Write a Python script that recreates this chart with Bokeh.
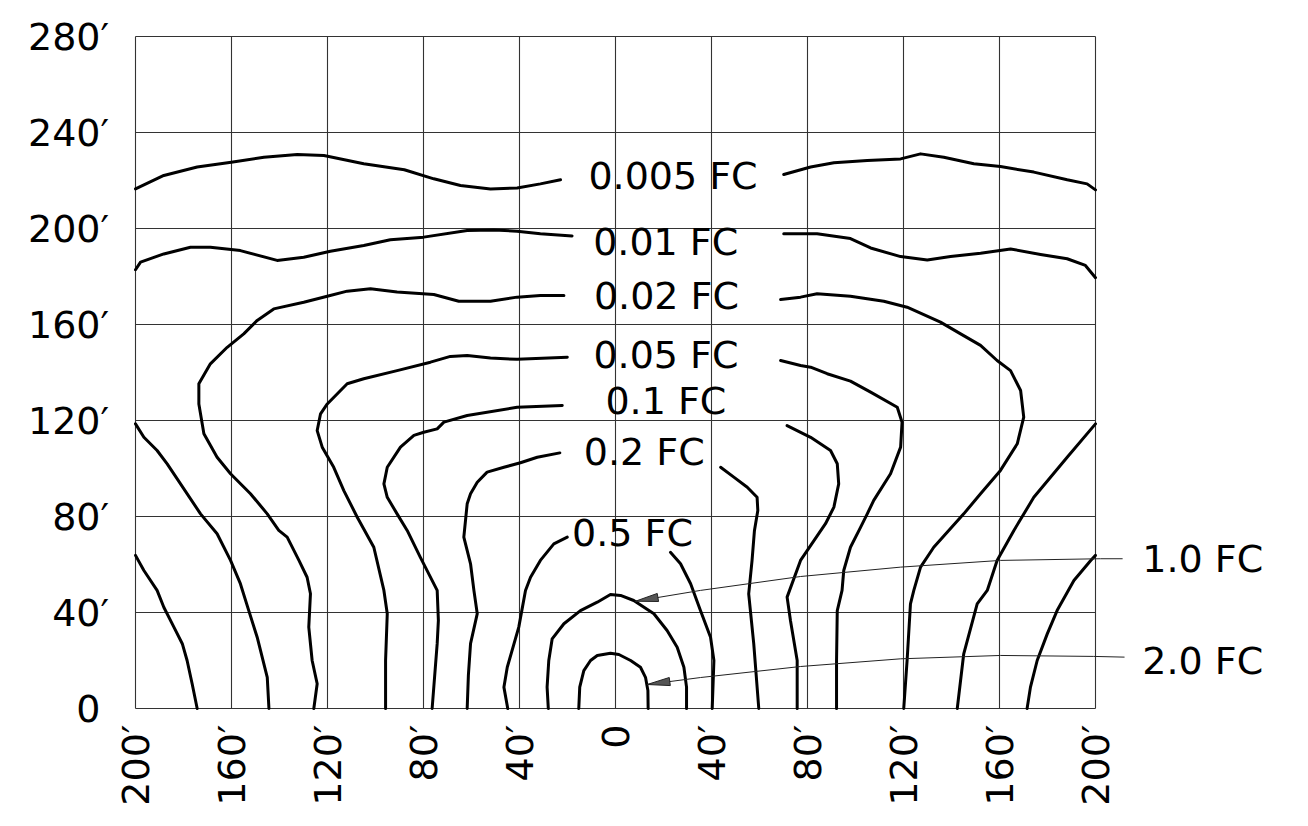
import math
from bokeh.plotting import figure
from bokeh.models import Range1d
from bokeh.core.properties import value
from bokeh.embed import file_html
from bokeh.resources import INLINE

# ---------------- data (feet) ----------------
x_ticks = [-200, -160, -120, -80, -40, 0, 40, 80, 120, 160, 200]
x_tick_labels = ["200′", "160′", "120′", "80′", "40′", "0", "40′", "80′", "120′", "160′", "200′"]
y_ticks = [0, 40, 80, 120, 160, 200, 240, 280]
y_tick_labels = ["0", "40′", "80′", "120′", "160′", "200′", "240′", "280′"]

# 0.005 FC
fc0005_a_x = [-200, -188.2, -174.3, -160.1, -146.5, -132.6, -121.5, -104.9, -88.0, -75.7, -64.6, -52.1, -41.0, -31.3, -22.9]
fc0005_a_y = [216.5, 222.1, 225.6, 227.6, 229.7, 230.8, 230.4, 227.0, 224.5, 220.7, 217.9, 216.5, 216.9, 218.6, 220.3]
fc0005_b_x = [70.1, 81.3, 91.0, 104.9, 118.8, 127.1, 136.8, 149.3, 160.4, 174.3, 188.2, 196.5, 200]
fc0005_b_y = [222.5, 225.6, 227.4, 228.3, 229.0, 231.1, 229.7, 227.0, 225.8, 223.5, 220.3, 218.6, 216.1]
fc0005_c_x = [-200, -196.5, -191.0, -188.2, -184.0, -180.5, -178.5, -176.4, -174.3]
fc0005_c_y = [63.8, 57.5, 49.2, 42.2, 33.9, 27.0, 20.0, 10.3, 0]
fc0005_d_x = [200, 198.0, 191.0, 184.0, 179.9, 175.7, 172.9, 171.5]
fc0005_d_y = [63.8, 61.7, 53.3, 40.8, 31.1, 20.0, 8.9, 0]

# 0.01 FC
fc001_a_x = [-200, -197.9, -188.2, -177.1, -168.8, -156.3, -141.0, -129.9, -118.8, -104.9, -93.8, -79.9, -61.8, -50.7, -41.0, -31.3, -18.1]
fc001_a_y = [182.8, 186.0, 189.4, 192.2, 192.2, 190.8, 186.7, 188.0, 190.5, 192.9, 195.3, 196.4, 199.2, 199.4, 198.9, 197.8, 196.9]
fc001_b_x = [70.1, 84.0, 97.9, 106.3, 118.8, 129.9, 139.6, 152.1, 164.6, 177.1, 188.2, 195.8, 200]
fc001_b_y = [197.8, 197.8, 195.8, 191.9, 188.3, 186.9, 188.3, 189.7, 191.5, 189.2, 187.4, 184.6, 179.5]
fc001_c_x = [-200, -196.5, -191.0, -186.8, -172.9, -166.0, -160.4, -156.3, -152.8, -149.3, -145.1, -144.4]
fc001_c_y = [118.6, 113.0, 107.5, 101.9, 81.1, 72.8, 61.7, 52.0, 40.8, 29.7, 13.0, 0]
fc001_d_x = [200, 188.2, 174.3, 166.0, 159.0, 154.9, 150.7, 145.1, 142.4]
fc001_d_y = [118.6, 104.7, 88.0, 74.2, 61.7, 49.2, 43.6, 22.8, 0]

# 0.02 FC
fc002_a_x = [-21.5, -31.3, -41.0, -52.1, -65.3, -75.7, -91.0, -102.1, -111.8, -120.1, -129.9, -142.4, -149.3, -154.9,
             -161.8, -168.8, -173.6, -173.6, -171.5, -166.0, -160.4, -152.1, -145.1, -140.3, -136.8, -131.9, -128.5,
             -127.1, -127.8, -126.4, -124.3, -125.7]
fc002_a_y = [172.1, 172.1, 171.4, 169.7, 169.7, 172.5, 173.5, 174.9, 173.9, 171.8, 169.3, 166.5, 161.7, 156.1,
             150.5, 143.6, 135.3, 126.9, 114.5, 104.7, 97.8, 89.5, 81.1, 74.2, 71.4, 61.7, 54.7,
             47.8, 33.9, 20.0, 10.3, 0]
fc002_b_x = [68.8, 77.1, 84.0, 97.9, 111.8, 121.5, 135.4, 143.8, 152.1, 159.0, 164.6, 168.8, 170.1, 167.4, 160.4,
             152.1, 145.1, 132.6, 127.1, 124.3, 122.9, 121.5, 120.1]
fc002_b_y = [170.4, 171.4, 172.8, 171.8, 169.7, 167.2, 161.0, 156.1, 151.3, 145.0, 140.8, 132.5, 121.4, 110.3, 99.2,
             89.5, 81.1, 67.2, 58.9, 49.2, 43.6, 20.0, 0]

# 0.05 FC
fc005_a_x = [-20.1, -41.0, -52.1, -61.8, -68.8, -77.1, -91.0, -104.9, -111.8, -120.1, -122.9, -124.3, -122.2, -117.4,
             -113.2, -107.6, -100.7, -96.5, -95.1, -95.8, -95.8]
fc005_a_y = [146.4, 145.5, 146.0, 147.1, 146.7, 144.3, 140.8, 137.4, 135.3, 126.9, 122.8, 115.8, 108.9, 100.5,
             90.8, 79.7, 67.2, 49.2, 39.5, 20.0, 0]
fc005_b_x = [68.8, 77.1, 81.3, 88.2, 97.9, 106.3, 117.4, 119.4, 118.8, 114.6, 107.6, 104.9, 102.1, 97.9, 95.1, 94.4,
             92.4, 92.1, 92.1]
fc005_b_y = [145.0, 142.9, 142.2, 139.5, 136.4, 131.8, 125.5, 119.3, 108.9, 97.8, 86.7, 81.1, 75.5, 67.2, 57.5, 49.2,
             40.8, 20.0, 0]

# 0.1 FC
fc01_a_x = [-22.2, -41.0, -61.8, -71.5, -74.3, -79.9, -84.0, -89.6, -95.1, -96.5, -95.1, -91.0, -86.8, -81.3, -74.3,
            -73.8, -74.3, -76.4]
fc01_a_y = [126.3, 125.5, 122.1, 119.3, 116.5, 115.1, 113.8, 108.9, 100.5, 93.6, 88.0, 81.1, 74.2, 63.0, 49.2,
            36.7, 27.0, 0]
fc01_b_x = [71.5, 81.3, 89.6, 92.4, 93.0, 91.0, 87.5, 77.1, 71.5, 72.9, 75.7, 75.7]
fc01_b_y = [117.9, 113.0, 107.5, 102.0, 93.6, 83.9, 77.0, 61.7, 46.4, 36.7, 20.0, 0]

# 0.2 FC
fc02_a_x = [-23.2, -32.6, -39.6, -46.5, -53.5, -57.6, -60.4, -61.8, -63.2, -60.4, -59.0, -57.6, -60.4, -61.3, -61.8]
fc02_a_y = [106.5, 104.7, 102.4, 100.5, 98.5, 94.3, 89.5, 85.3, 71.4, 60.3, 49.2, 39.5, 27.0, 13.8, 0]
fc02_b_x = [43.8, 49.3, 54.9, 59.0, 59.3, 57.9, 56.9, 55.5, 57.6, 59.7]
fc02_b_y = [100.5, 96.4, 92.2, 88.0, 82.5, 74.2, 61.7, 47.8, 27.0, 0]

# 0.5 FC
fc05_a_x = [-20.1, -25.7, -31.3, -35.4, -37.5, -40.3, -45.1, -46.5, -44.9]
fc05_a_y = [71.4, 68.6, 61.7, 54.7, 49.2, 33.9, 17.2, 8.9, 0]
fc05_b_x = [22.9, 27.1, 31.3, 35.4, 39.6, 41.0, 40.3]
fc05_b_y = [65.1, 60.3, 52.0, 40.8, 29.7, 20.0, 0]

# 1.0 FC
fc1_x = [-28.0, -28.5, -27.8, -26.4, -21.5, -14.6, -7.6, -2.1, 2.1, 7.6, 16.0, 21.5, 25.7, 28.5, 29.6, 29.6]
fc1_y = [0, 8.9, 20.0, 29.0, 35.3, 40.8, 44.3, 47.5, 47.1, 45.0, 39.5, 32.5, 25.5, 17.2, 8.9, 0]

# 2.0 FC
fc2_x = [-15.3, -14.9, -13.2, -10.4, -7.6, -2.1, 1.4, 6.3, 10.4, 12.5, 13.5, 13.6]
fc2_y = [0, 8.9, 15.8, 20.0, 22.1, 23.0, 22.5, 20.0, 17.2, 13.0, 7.5, 0]

# leaders (label -> arrow tip)
lead1_x = [211.3, 202.1, 160.4, 118.8, 77.1, 35.4, 8.3]
lead1_y = [62.4, 62.4, 61.7, 58.9, 55.0, 49.2, 44.7]
lead2_x = [212.1, 199.2, 160.4, 118.8, 77.1, 35.4, 13.2]
lead2_y = [21.4, 21.7, 22.1, 20.7, 17.5, 12.9, 10.0]

contour_labels = ["0.005 FC", "0.01 FC", "0.02 FC", "0.05 FC", "0.1 FC", "0.2 FC", "0.5 FC", "1.0 FC", "2.0 FC"]
# label anchor positions (left, middle)
label_x = [-11.3, -9.3, -9.0, -9.2, -4.2, -13.2, -18.1, 219.5, 219.5]
label_y = [221.9, 194.2, 171.7, 147.1, 128.3, 106.9, 73.1, 62.5, 20.0]

# ---------------- figure ----------------
W, H = 1300, 818
SCALE = 2.4  # px per foot
x0 = -200 - 135 / SCALE
y1 = 280 + 36 / SCALE
p = figure(width=W, height=H, output_backend="svg", toolbar_location=None,
           x_range=Range1d(x0, x0 + W / SCALE), y_range=Range1d(y1 - H / SCALE, y1),
           x_axis_type=None, y_axis_type=None, min_border=0,
           outline_line_color=None, background_fill_color="white")
p.grid.visible = False

FONT = value("DejaVu Sans")
FSIZE = "38px"
GRID = "#333333"

# grid + frame
xmin, xmax = x_ticks[0], x_ticks[-1]
ymin, ymax = y_ticks[0], y_ticks[-1]
p.segment(x0=x_ticks, y0=[ymin] * len(x_ticks), x1=x_ticks, y1=[ymax] * len(x_ticks),
          line_color=GRID, line_width=1.1)
p.segment(x0=[xmin] * len(y_ticks), y0=y_ticks, x1=[xmax] * len(y_ticks), y1=y_ticks,
          line_color=GRID, line_width=1.1)

# contours
curves_x = [fc0005_a_x, fc0005_b_x, fc0005_c_x, fc0005_d_x,
            fc001_a_x, fc001_b_x, fc001_c_x, fc001_d_x,
            fc002_a_x, fc002_b_x, fc005_a_x, fc005_b_x,
            fc01_a_x, fc01_b_x, fc02_a_x, fc02_b_x,
            fc05_a_x, fc05_b_x, fc1_x, fc2_x]
curves_y = [fc0005_a_y, fc0005_b_y, fc0005_c_y, fc0005_d_y,
            fc001_a_y, fc001_b_y, fc001_c_y, fc001_d_y,
            fc002_a_y, fc002_b_y, fc005_a_y, fc005_b_y,
            fc01_a_y, fc01_b_y, fc02_a_y, fc02_b_y,
            fc05_a_y, fc05_b_y, fc1_y, fc2_y]
p.multi_line(xs=curves_x, ys=curves_y, line_color="black", line_width=3,
             line_join="round", line_cap="round")

# leaders + arrow heads
p.multi_line(xs=[lead1_x, lead2_x], ys=[lead1_y, lead2_y], line_color="#222222", line_width=1)
head_xs, head_ys = [], []
for lx, ly in ((lead1_x, lead1_y), (lead2_x, lead2_y)):
    tx, ty = lx[-1], ly[-1]
    dx, dy = lx[-2] - tx, ly[-2] - ty
    d = math.hypot(dx, dy)
    ux, uy = dx / d, dy / d
    L, hw = 9.5, 1.7
    bx, by = tx + ux * L, ty + uy * L
    head_xs.append([tx, bx - uy * hw, bx + uy * hw])
    head_ys.append([ty, by + ux * hw, by - ux * hw])
p.patches(xs=head_xs, ys=head_ys, fill_color="#555555", line_color="#222222", line_width=1)

# contour labels
p.text(x=label_x, y=label_y, text=contour_labels, text_font=FONT, text_font_size=FSIZE,
       text_align="left", text_baseline="middle", text_color="black")

# y tick labels: digits right-aligned, prime after
y_digits = [s.rstrip("′") for s in y_tick_labels]
y_primes = [s[len(d):] for s, d in zip(y_tick_labels, y_digits)]
ylab_x = xmin - 35 / SCALE
p.text(x=[ylab_x] * len(y_ticks), y=y_ticks, text=y_digits, text_font=FONT, text_font_size=FSIZE,
       text_align="right", text_baseline="middle", text_color="black")
p.text(x=[ylab_x] * len(y_ticks), y=y_ticks, text=y_primes, text_font=FONT, text_font_size=FSIZE,
       text_align="left", text_baseline="middle", text_color="black")

# x tick labels (rotated)
xlab_y = ymin - 16 / SCALE
p.text(x=x_ticks, y=[xlab_y] * len(x_ticks), text=x_tick_labels, angle=math.pi / 2,
       text_font=FONT, text_font_size=FSIZE, text_align="right", text_baseline="middle",
       text_color="black")

open("out.html", "w").write(file_html(p, INLINE))
